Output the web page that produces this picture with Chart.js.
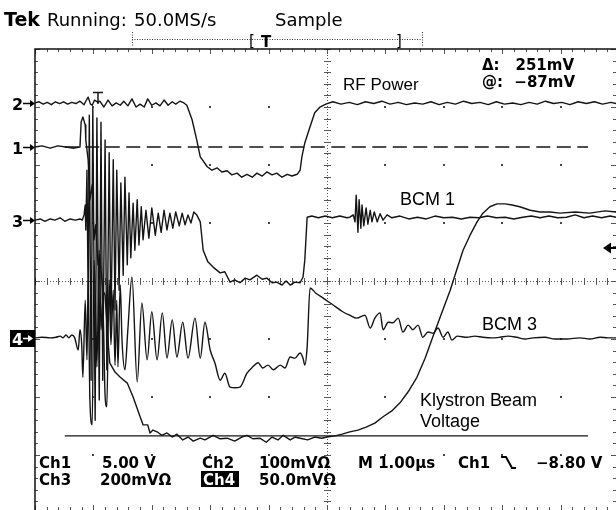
<!DOCTYPE html>
<html>
<head>
<meta charset="utf-8">
<script src="https://cdn.jsdelivr.net/npm/chart.js@4.4.0/dist/chart.umd.min.js"></script>
<style>
  html, body { margin: 0; padding: 0; background: #fff; }
</style>
</head>
<body>
<canvas id="scope" width="616" height="510"></canvas>
<script>
// time: µs from the left edge of the screen (M 1.00µs per div)
// level: divisions from the screen centre
const rfPower = [
  [0.00,3.07],[0.07,3.09],[0.14,3.05],[0.21,3.08],[0.28,3.04],[0.35,3.09],[0.42,3.06],[0.49,3.09],
  [0.56,3.05],[0.63,3.08],[0.70,3.06],[0.77,3.10],[0.84,3.04],[0.88,3.12],[0.91,3.17],[0.95,3.05],
  [0.98,3.03],[1.02,3.12],[1.08,3.08],[1.11,3.10],[1.18,3.00],[1.25,3.12],[1.32,3.02],[1.39,3.07],
  [1.46,3.03],[1.52,3.10],[1.59,3.02],[1.66,3.14],[1.73,3.00],[1.80,3.05],[1.87,3.00],[1.93,3.14],
  [2.00,3.03],[2.07,3.07],[2.14,3.02],[2.21,3.12],[2.28,3.03],[2.35,3.09],[2.41,3.05],[2.48,3.10],
  [2.55,3.07],[2.60,3.03],[2.69,2.78],[2.77,2.43],[2.83,2.14],[2.95,1.97],[3.03,1.91],[3.12,1.95],
  [3.20,1.88],[3.29,1.90],[3.37,1.83],[3.46,1.86],[3.54,1.79],[3.63,1.84],[3.72,1.79],[3.80,1.86],
  [3.89,1.81],[3.97,1.88],[4.06,1.83],[4.14,1.86],[4.23,1.79],[4.32,1.84],[4.40,1.81],[4.49,1.84],
  [4.54,1.91],[4.57,2.14],[4.62,2.38],[4.71,2.66],[4.79,2.90],[4.88,3.00],[4.98,3.05],[5.10,3.09],
  [5.24,3.05],[5.38,3.08],[5.52,3.04],[5.66,3.09],[5.80,3.06],[5.94,3.10],[6.08,3.05],[6.22,3.08],
  [6.36,3.04],[6.50,3.07],[6.64,3.05],[6.78,3.09],[6.92,3.04],[7.06,3.08],[7.20,3.05],[7.34,3.10],
  [7.48,3.06],[7.62,3.08],[7.76,3.04],[7.90,3.09],[8.04,3.05],[8.18,3.07],[8.32,3.04],[8.46,3.08],
  [8.60,3.05],[8.74,3.10],[8.88,3.06],[9.02,3.08],[9.16,3.04],[9.30,3.09],[9.44,3.06],[9.58,3.09],
  [9.72,3.05],[9.86,3.08],[9.95,3.06]
];

const beamVoltage = [
  [0.00,2.31],[0.12,2.33],[0.26,2.29],[0.39,2.33],[0.53,2.31],[0.67,2.29],[0.77,2.31],[0.79,2.74],
  [0.82,2.83],[0.86,2.69],[0.87,2.43],[0.91,2.09],[0.94,1.40],[0.98,1.66],[1.01,0.71],[1.04,0.97],
  [1.08,0.28],[1.11,0.45],[1.16,-0.16],[1.20,-0.24],[1.25,-1.02],[1.28,-1.41],[1.37,-1.57],[1.46,-1.66],
  [1.58,-1.76],[1.68,-2.00],[1.80,-2.34],[1.85,-2.48],[1.93,-2.48],[1.97,-2.62],[2.02,-2.57],[2.09,-2.60],
  [2.17,-2.66],[2.26,-2.62],[2.35,-2.69],[2.43,-2.64],[2.53,-2.74],[2.62,-2.69],[2.71,-2.76],[2.83,-2.71],
  [2.91,-2.74],[3.05,-2.66],[3.17,-2.72],[3.29,-2.71],[3.42,-2.76],[3.54,-2.69],[3.63,-2.66],[3.73,-2.72],
  [3.85,-2.71],[3.96,-2.78],[4.06,-2.69],[4.16,-2.74],[4.25,-2.66],[4.37,-2.74],[4.45,-2.69],[4.54,-2.71],
  [4.67,-2.74],[4.79,-2.69],[4.91,-2.71],[5.00,-2.69],[5.14,-2.67],[5.26,-2.64],[5.39,-2.60],[5.53,-2.57],
  [5.67,-2.52],[5.82,-2.45],[5.96,-2.34],[6.11,-2.24],[6.25,-2.10],[6.39,-1.91],[6.54,-1.66],[6.68,-1.33],
  [6.81,-0.97],[6.95,-0.59],[7.11,-0.16],[7.23,0.22],[7.33,0.53],[7.45,0.79],[7.57,1.02],[7.67,1.17],
  [7.79,1.28],[7.91,1.33],[8.05,1.33],[8.17,1.31],[8.30,1.28],[8.48,1.22],[8.65,1.19],[8.82,1.19],
  [8.99,1.17],[9.25,1.19],[9.50,1.17],[9.76,1.21],[9.95,1.19]
];

const bcm1 = [
  [0.00,1.05],[0.09,1.07],[0.17,1.03],[0.26,1.07],[0.34,1.05],[0.43,1.09],[0.51,1.03],[0.60,1.07],
  [0.69,1.05],[0.77,1.07],[0.81,1.05],[0.84,1.14],[0.86,1.31],[0.87,0.88],[0.89,1.91],[0.91,-0.33],
  [0.93,2.86],[0.96,-1.71],[0.99,2.98],[1.03,-2.40],[1.06,2.81],[1.10,-2.05],[1.13,2.74],[1.16,-1.71],
  [1.20,2.43],[1.23,-1.53],[1.27,2.21],[1.30,-0.84],[1.34,2.09],[1.37,-0.50],[1.40,1.91],[1.44,-0.16],
  [1.47,1.69],[1.51,0.10],[1.54,1.79],[1.58,0.28],[1.61,1.52],[1.64,0.40],[1.68,1.34],[1.71,0.53],
  [1.75,1.40],[1.78,0.62],[1.82,1.28],[1.85,0.71],[1.90,1.22],[1.95,0.74],[2.00,1.26],[2.06,0.79],
  [2.11,1.17],[2.16,0.84],[2.21,1.22],[2.26,0.88],[2.31,1.17],[2.36,0.91],[2.41,1.19],[2.47,0.95],
  [2.52,1.17],[2.57,0.97],[2.62,1.14],[2.67,1.00],[2.72,1.19],[2.77,1.14],[2.83,1.02],[2.88,0.53],
  [2.96,0.33],[3.05,0.24],[3.17,0.14],[3.25,0.16],[3.34,-0.02],[3.42,0.02],[3.51,-0.03],[3.60,0.05],
  [3.68,0.02],[3.80,0.10],[3.89,0.03],[3.97,0.05],[4.06,-0.03],[4.14,-0.02],[4.23,-0.07],[4.30,0.00],
  [4.37,-0.07],[4.45,-0.02],[4.54,-0.03],[4.59,0.07],[4.62,0.36],[4.66,1.10],[4.74,1.12],[4.85,1.09],
  [4.97,1.12],[5.09,1.09],[5.22,1.12],[5.34,1.09],[5.39,1.10],[5.45,1.14],[5.48,1.02],[5.50,1.48],
  [5.53,0.84],[5.55,1.40],[5.58,0.91],[5.60,1.31],[5.63,0.95],[5.67,1.26],[5.70,0.98],[5.74,1.22],
  [5.77,1.02],[5.81,1.19],[5.86,1.02],[5.91,1.16],[5.96,1.05],[6.03,1.14],[6.11,1.09],[6.25,1.12],
  [6.40,1.07],[6.55,1.10],[6.70,1.07],[6.85,1.12],[7.00,1.09],[7.15,1.10],[7.30,1.07],[7.45,1.10],
  [7.60,1.09],[7.75,1.12],[7.90,1.09],[8.05,1.10],[8.20,1.07],[8.35,1.10],[8.50,1.12],[8.65,1.09],
  [8.80,1.12],[8.95,1.09],[9.10,1.10],[9.25,1.14],[9.40,1.09],[9.55,1.12],[9.70,1.09],[9.85,1.12],
  [9.95,1.10]
];

const bcm3 = [
  [0.00,-0.98],[0.12,-0.97],[0.26,-0.98],[0.36,-0.97],[0.43,-0.95],[0.48,-0.98],[0.53,-0.93],[0.58,-0.98],
  [0.63,-0.93],[0.68,-0.98],[0.74,-1.19],[0.77,-0.84],[0.80,-1.10],[0.82,-1.66],[0.86,-0.33],[0.89,-1.36],
  [0.91,0.02],[0.94,-2.05],[0.98,-2.48],[1.01,0.36],[1.05,-1.02],[1.06,-1.48],[1.10,0.53],[1.13,-0.84],
  [1.16,-0.33],[1.20,-1.97],[1.23,-2.17],[1.27,0.02],[1.30,-1.10],[1.34,-0.16],[1.37,-1.45],[1.40,-0.33],
  [1.42,-1.48],[1.46,-0.07],[1.49,-1.02],[1.54,-1.53],[1.59,-0.84],[1.66,0.07],[1.75,-1.74],[1.83,-0.38],
  [1.92,-1.36],[2.00,-0.53],[2.09,-1.36],[2.18,-0.55],[2.26,-1.33],[2.35,-0.67],[2.43,-1.31],[2.53,-0.71],
  [2.62,-1.33],[2.74,-0.64],[2.83,-1.33],[2.91,-0.71],[3.00,-1.19],[3.08,-1.41],[3.17,-1.71],[3.25,-1.59],
  [3.34,-1.83],[3.43,-1.84],[3.51,-1.83],[3.63,-1.59],[3.73,-1.48],[3.82,-1.41],[3.90,-1.50],[3.99,-1.45],
  [4.08,-1.53],[4.20,-1.45],[4.28,-1.50],[4.37,-1.31],[4.45,-1.33],[4.54,-1.24],[4.59,-1.33],[4.62,-1.45],
  [4.66,-1.14],[4.71,-0.12],[4.81,-0.21],[4.93,-0.29],[5.10,-0.41],[5.27,-0.53],[5.39,-0.59],[5.51,-0.64],
  [5.65,-0.59],[5.74,-0.81],[5.82,-0.64],[5.91,-0.55],[5.96,-0.84],[6.05,-0.71],[6.13,-0.72],[6.22,-0.64],
  [6.30,-0.88],[6.39,-0.76],[6.47,-0.84],[6.56,-0.76],[6.64,-0.97],[6.73,-0.88],[6.82,-0.90],[6.90,-0.81],
  [6.99,-0.97],[7.07,-0.88],[7.14,-1.02],[7.23,-0.95],[7.40,-0.97],[7.53,-0.95],[7.67,-0.97],[7.83,-0.98],
  [7.96,-0.97],[8.10,-0.95],[8.25,-0.97],[8.39,-1.00],[8.53,-0.98],[8.73,-0.97],[8.90,-1.00],[9.11,-1.00],
  [9.33,-0.98],[9.50,-1.00],[9.68,-0.97],[9.81,-0.98],[9.95,-0.98]
];

// H-bar cursors (dashed / solid)
const cursorDashed = [[0.51,2.31],[9.47,2.31]];
const cursorSolid = [[0.51,-2.67],[9.47,-2.67]];

// channel reference markers on the left edge
const markerNames = ['2', '1', '3', '4'];
const markerLevels = [3.07, 2.31, 1.05, -0.98];

const ink = '#141414';

function pts(arr) {
  return arr.map(p => ({x: p[0], y: p[1]}));
}

function trace(data, extra) {
  return Object.assign({
    data: pts(data),
    showLine: true,
    borderColor: ink,
    borderWidth: 1.4,
    borderJoinStyle: 'round',
    pointRadius: 0,
    tension: 0
  }, extra || {});
}

const graticule = {
  id: 'graticule',
  beforeDatasetsDraw(chart) {
    let ctx = chart.ctx;
    let px = v => chart.scales.x.getPixelForValue(v);
    let py = v => chart.scales.y.getPixelForValue(v);
    ctx.save();
    // dots on the division crossings
    ctx.fillStyle = '#444';
    for (let i = 1; i < 10; i++) {
      for (let j = -3; j <= 3; j++) {
        if (i == 5 || j == 0) continue;
        ctx.fillRect(Math.round(px(i)) - 1, Math.round(py(j)) - 1, 2, 2);
      }
    }
    // centre cross, dotted
    ctx.strokeStyle = '#555';
    ctx.lineWidth = 1;
    ctx.setLineDash([1, 2]);
    ctx.beginPath();
    ctx.moveTo(Math.round(px(5)) + 0.5, py(4));
    ctx.lineTo(Math.round(px(5)) + 0.5, py(-4));
    ctx.moveTo(px(0), Math.round(py(0)) + 0.5);
    ctx.lineTo(px(10), Math.round(py(0)) + 0.5);
    ctx.stroke();
    ctx.setLineDash([]);
    // minor ticks
    ctx.beginPath();
    for (let k = -20; k <= 20; k++) {
      let yy = Math.round(py(k / 5)) + 0.5;
      let big = k % 5 == 0;
      ctx.moveTo(px(5) - 3, yy); ctx.lineTo(px(5) + 4, yy);
      ctx.moveTo(px(0), yy); ctx.lineTo(px(0) + (big ? 5 : 3), yy);
      ctx.moveTo(px(10), yy); ctx.lineTo(px(10) - (big ? 8 : 6), yy);
    }
    for (let k = 0; k <= 50; k++) {
      let xx = Math.round(px(k / 5)) + 0.5;
      let big = k % 5 == 0;
      ctx.moveTo(xx, py(0) - 3); ctx.lineTo(xx, py(0) + 4);
      ctx.moveTo(xx, py(4)); ctx.lineTo(xx, py(4) + (big ? 5 : 3));
      ctx.moveTo(xx, py(-4)); ctx.lineTo(xx, py(-4) - (big ? 8 : 6));
    }
    ctx.stroke();
    // frame
    ctx.strokeStyle = '#111';
    ctx.lineWidth = 1.5;
    ctx.beginPath();
    ctx.moveTo(px(0), py(-4));
    ctx.lineTo(px(0), py(4));
    ctx.lineTo(px(10), py(4));
    ctx.stroke();
    ctx.restore();
  }
};

function arrowRight(ctx, x0, x1, y, color) {
  ctx.strokeStyle = color;
  ctx.fillStyle = color;
  ctx.lineWidth = 1.5;
  ctx.beginPath();
  ctx.moveTo(x0, y); ctx.lineTo(x1 - 4, y);
  ctx.stroke();
  ctx.beginPath();
  ctx.moveTo(x1, y); ctx.lineTo(x1 - 5, y - 3.5); ctx.lineTo(x1 - 5, y + 3.5);
  ctx.closePath();
  ctx.fill();
}

const screenText = {
  id: 'screenText',
  afterDatasetsDraw(chart) {
    let ctx = chart.ctx;
    let py = v => chart.scales.y.getPixelForValue(v);
    ctx.save();
    ctx.fillStyle = '#000';
    ctx.textBaseline = 'alphabetic';

    // header
    ctx.font = 'bold 19px "DejaVu Sans"';
    ctx.fillText('Tek', 4, 26);
    ctx.font = '18px "DejaVu Sans"';
    ctx.fillText('Running:', 47, 26);
    ctx.fillText('50.0MS/s', 134, 26);
    ctx.fillText('Sample', 275, 26);

    // record / trigger position bar
    ctx.strokeStyle = '#333';
    ctx.lineWidth = 1;
    ctx.setLineDash([1, 1.5]);
    ctx.beginPath();
    ctx.moveTo(132, 39.5); ctx.lineTo(422, 39.5);
    ctx.moveTo(132.5, 32); ctx.lineTo(132.5, 47);
    ctx.moveTo(422.5, 32); ctx.lineTo(422.5, 47);
    ctx.stroke();
    ctx.setLineDash([]);
    ctx.font = '15px "DejaVu Sans"';
    ctx.fillText('[', 249, 46);
    ctx.fillText(']', 396, 46);
    ctx.font = 'bold 15px "DejaVu Sans"';
    ctx.fillText('T', 261, 47);

    // trigger point marker on the record
    ctx.strokeStyle = ink;
    ctx.lineWidth = 1.5;
    ctx.beginPath();
    ctx.moveTo(93, 92.5); ctx.lineTo(103, 92.5);
    ctx.moveTo(98, 92.5); ctx.lineTo(98, 104);
    ctx.stroke();

    // trace labels
    ctx.font = '17px "Liberation Sans"';
    ctx.fillText('RF Power', 343, 90);
    ctx.font = '18px "Liberation Sans"';
    ctx.fillText('BCM 1', 400, 205);
    ctx.fillText('BCM 3', 482, 330);
    ctx.fillText('Klystron Beam', 420, 406);
    ctx.fillText('Voltage', 420, 427);

    // cursor readout
    ctx.font = 'bold 15px "DejaVu Sans"';
    ctx.fillText('\u0394:', 482, 70);
    ctx.fillText('@:', 482, 87);
    ctx.textAlign = 'right';
    ctx.fillText('251mV', 574, 70);
    ctx.fillText('\u221287mV', 575, 87);
    ctx.textAlign = 'left';

    // channel markers
    ctx.font = 'bold 16px "DejaVu Sans"';
    for (let i = 0; i < markerNames.length; i++) {
      let yy = Math.round(py(markerLevels[i])) + 0.5;
      if (markerNames[i] == '4') {
        ctx.fillStyle = '#000';
        ctx.fillRect(10, yy - 8.5, 25, 17);
        ctx.fillStyle = '#fff';
        ctx.fillText('4', 12, yy + 6);
        arrowRight(ctx, 23, 33, yy, '#fff');
        ctx.fillStyle = '#000';
      } else {
        ctx.fillText(markerNames[i], 12, yy + 6);
        arrowRight(ctx, 23, 35, yy, '#000');
      }
    }

    // trigger level marker, right edge
    ctx.fillStyle = '#000';
    ctx.beginPath();
    ctx.moveTo(603, 248); ctx.lineTo(611, 242.5); ctx.lineTo(611, 253.5);
    ctx.closePath();
    ctx.fill();
    ctx.lineWidth = 2;
    ctx.strokeStyle = '#000';
    ctx.beginPath();
    ctx.moveTo(610, 248); ctx.lineTo(616, 248);
    ctx.stroke();

    // bottom readout
    ctx.font = 'bold 15px "DejaVu Sans"';
    ctx.fillText('Ch1', 39, 468);
    ctx.fillText('5.00 V', 102, 468);
    ctx.fillText('Ch2', 202, 468);
    ctx.fillText('100mV\u03a9', 259, 468);
    ctx.fillText('M 1.00\u00b5s', 358, 468);
    ctx.fillText('Ch1', 458, 468);
    ctx.fillText('\u22128.80 V', 536, 468);
    ctx.fillText('Ch3', 39, 485);
    ctx.fillText('200mV\u03a9', 100, 485);
    ctx.fillRect(201, 471, 38, 16);
    ctx.fillText('50.0mV\u03a9', 259, 485);
    ctx.fillStyle = '#fff';
    ctx.fillText('Ch4', 203, 485);

    // falling-edge slope glyph
    ctx.strokeStyle = '#000';
    ctx.lineWidth = 2;
    ctx.beginPath();
    ctx.moveTo(501, 457); ctx.lineTo(506, 457); ctx.lineTo(512, 468); ctx.lineTo(516, 468);
    ctx.stroke();
    ctx.restore();
  }
};

let scope = new Chart(document.getElementById('scope'), {
  type: 'scatter',
  data: {
    datasets: [
      trace(cursorDashed, {borderDash: [14, 6.5], borderWidth: 1.3}),
      trace(cursorSolid, {borderWidth: 1.3}),
      trace(rfPower),
      trace(beamVoltage),
      trace(bcm1),
      trace(bcm3, {cubicInterpolationMode: 'monotone'})
    ]
  },
  options: {
    responsive: false,
    animation: false,
    events: [],
    layout: {padding: {left: 35, top: 49, right: 0, bottom: 0}},
    plugins: {legend: {display: false}, tooltip: {enabled: false}},
    scales: {
      x: {type: 'linear', min: 0, max: 9.949, display: false},
      y: {type: 'linear', min: -3.948, max: 4, display: false}
    }
  },
  plugins: [graticule, screenText]
});
</script>
</body>
</html>
